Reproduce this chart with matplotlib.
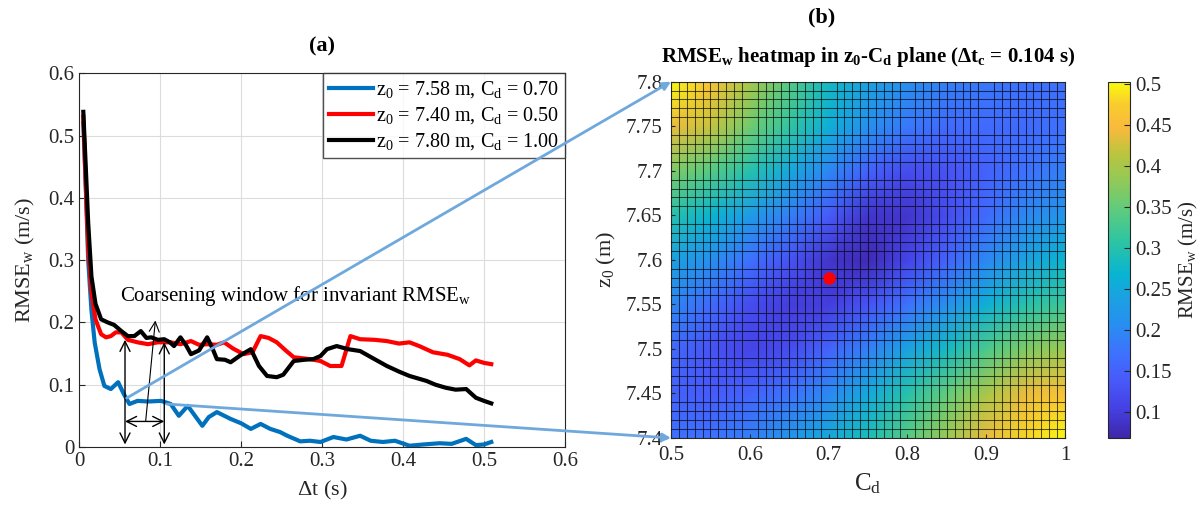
import numpy as np
import matplotlib
matplotlib.use('Agg')
import matplotlib.pyplot as plt
from matplotlib.colors import LinearSegmentedColormap
from matplotlib.patches import ConnectionPatch
from matplotlib.ticker import MultipleLocator

plt.rcParams['font.family'] = ['Liberation Serif', 'DejaVu Serif']
plt.rcParams['mathtext.fontset'] = 'custom'
plt.rcParams['mathtext.rm'] = 'Liberation Serif'
plt.rcParams['mathtext.it'] = 'Liberation Serif:italic'
plt.rcParams['mathtext.bf'] = 'Liberation Serif:bold'

# (a) RMSE_w vs coarsening time step
blue_dt = [0.005, 0.008, 0.011, 0.015, 0.019, 0.025, 0.031, 0.039, 0.048, 0.055, 0.062, 0.072, 0.085,
           0.101, 0.113, 0.123, 0.134, 0.143, 0.152, 0.16, 0.17, 0.187, 0.2, 0.212, 0.224, 0.236, 0.248,
           0.257, 0.273, 0.285, 0.298, 0.314, 0.33, 0.347, 0.36, 0.375, 0.39, 0.408, 0.425, 0.445, 0.46,
           0.478, 0.49, 0.5, 0.509]
blue_rmse = [0.52, 0.42, 0.30, 0.22, 0.168, 0.125, 0.098, 0.093, 0.104, 0.085, 0.069, 0.074, 0.073,
             0.074, 0.069, 0.05, 0.066, 0.05, 0.034, 0.048, 0.056, 0.045, 0.038, 0.029, 0.037, 0.029, 0.024,
             0.018, 0.009, 0.01, 0.008, 0.016, 0.012, 0.018, 0.01, 0.008, 0.01, 0.002, 0.004, 0.006, 0.005,
             0.013, 0.003, 0.004, 0.008]

red_dt = [0.005, 0.008, 0.011, 0.015, 0.02, 0.027, 0.033, 0.039, 0.045, 0.052, 0.06, 0.072, 0.085, 0.097,
          0.113, 0.125, 0.138, 0.148, 0.158, 0.17, 0.179, 0.19, 0.203, 0.214, 0.224, 0.234, 0.244, 0.255,
          0.265, 0.285, 0.298, 0.31, 0.324, 0.335, 0.347, 0.365, 0.38, 0.395, 0.408, 0.42, 0.437, 0.455,
          0.47, 0.482, 0.49, 0.5, 0.509]
red_rmse = [0.53, 0.42, 0.32, 0.248, 0.205, 0.181, 0.176, 0.178, 0.184, 0.184, 0.172, 0.168, 0.165, 0.168,
            0.168, 0.165, 0.17, 0.164, 0.165, 0.164, 0.168, 0.158, 0.149, 0.152, 0.178, 0.175, 0.168, 0.155,
            0.144, 0.141, 0.138, 0.13, 0.13, 0.178, 0.173, 0.172, 0.17, 0.166, 0.168, 0.162, 0.152, 0.148,
            0.141, 0.131, 0.139, 0.135, 0.133]

black_dt = [0.005, 0.008, 0.011, 0.015, 0.02, 0.027, 0.035, 0.043, 0.052, 0.06, 0.068, 0.076, 0.083, 0.089,
            0.097, 0.105, 0.112, 0.117, 0.125, 0.132, 0.138, 0.148, 0.158, 0.164, 0.17, 0.18, 0.187, 0.2,
            0.212, 0.222, 0.232, 0.244, 0.252, 0.265, 0.278, 0.289, 0.298, 0.306, 0.318, 0.332, 0.347,
            0.362, 0.38, 0.395, 0.408, 0.429, 0.44, 0.453, 0.465, 0.478, 0.49, 0.5, 0.509]
black_rmse = [0.538, 0.45, 0.36, 0.274, 0.23, 0.205, 0.2, 0.196, 0.186, 0.178, 0.178, 0.186, 0.175, 0.176,
              0.172, 0.173, 0.168, 0.162, 0.176, 0.163, 0.149, 0.155, 0.176, 0.16, 0.141, 0.14, 0.136, 0.148,
              0.157, 0.13, 0.114, 0.112, 0.116, 0.138, 0.14, 0.141, 0.146, 0.157, 0.162, 0.157, 0.154,
              0.143, 0.13, 0.121, 0.114, 0.106, 0.1, 0.095, 0.092, 0.093, 0.079, 0.074, 0.07]

labels = [r'z$_0$ = 7.58 m, C$_\mathrm{d}$ = 0.70',
          r'z$_0$ = 7.40 m, C$_\mathrm{d}$ = 0.50',
          r'z$_0$ = 7.80 m, C$_\mathrm{d}$ = 1.00']

# (b) heatmap, read on a coarse grid (rows: z0, cols: Cd)
cd_vals = [0.5, 0.55, 0.6, 0.65, 0.7, 0.75, 0.8, 0.85, 0.9, 0.95, 1.0]
z0_vals = [7.4, 7.45, 7.5, 7.55, 7.6, 7.65, 7.7, 7.75, 7.8]
rmse_grid = [
    [0.17, 0.17, 0.19, 0.22, 0.25, 0.29, 0.34, 0.39, 0.44, 0.48, 0.50],
    [0.15, 0.14, 0.15, 0.17, 0.20, 0.25, 0.30, 0.35, 0.40, 0.44, 0.46],
    [0.16, 0.13, 0.11, 0.12, 0.15, 0.19, 0.24, 0.28, 0.33, 0.37, 0.39],
    [0.20, 0.16, 0.12, 0.10, 0.10, 0.13, 0.17, 0.21, 0.26, 0.30, 0.32],
    [0.24, 0.21, 0.17, 0.13, 0.09, 0.075, 0.11, 0.15, 0.20, 0.24, 0.27],
    [0.30, 0.27, 0.23, 0.19, 0.14, 0.09, 0.09, 0.12, 0.16, 0.20, 0.22],
    [0.37, 0.34, 0.30, 0.25, 0.20, 0.15, 0.12, 0.13, 0.15, 0.17, 0.19],
    [0.44, 0.42, 0.36, 0.31, 0.26, 0.21, 0.18, 0.16, 0.16, 0.16, 0.17],
    [0.50, 0.46, 0.40, 0.34, 0.28, 0.24, 0.21, 0.19, 0.18, 0.17, 0.17],
]
best_cd = [0.70]
best_z0 = [7.58]

parula = LinearSegmentedColormap.from_list('parula', [
    (0.00, (0.2422, 0.1504, 0.6603)),
    (0.08, (0.2700, 0.2500, 0.8900)),
    (0.16, (0.2810, 0.3500, 0.9800)),
    (0.24, (0.2400, 0.4500, 0.9950)),
    (0.32, (0.1540, 0.5600, 0.9400)),
    (0.40, (0.1000, 0.6400, 0.8800)),
    (0.46, (0.0297, 0.7082, 0.8163)),
    (0.56, (0.1938, 0.7758, 0.6251)),
    (0.64, (0.3667, 0.7956, 0.4945)),
    (0.72, (0.5630, 0.7923, 0.3486)),
    (0.80, (0.7345, 0.7713, 0.2414)),
    (0.87, (0.9743, 0.7291, 0.2373)),
    (0.94, (0.9765, 0.8030, 0.1751)),
    (1.00, (0.9763, 0.9831, 0.0538)),
])

fig = plt.figure(figsize=(12.03, 5.12), dpi=100)
ax1 = fig.add_axes([0.0659, 0.127, 0.4037, 0.730])
ax2 = fig.add_axes([0.5578, 0.1445, 0.3275, 0.6960])
cax = fig.add_axes([0.9210, 0.1445, 0.0185, 0.6960])

gray = '#262626'
ax1.plot(blue_dt, blue_rmse, color='#0072BD', lw=3.0, label=labels[0], zorder=3)
ax1.plot(red_dt, red_rmse, color='#FF0000', lw=3.0, label=labels[1], zorder=3)
ax1.plot(black_dt, black_rmse, color='black', lw=3.0, label=labels[2], zorder=3)
ax1.set_xlim(0, 0.6)
ax1.set_ylim(0, 0.6)
ax1.set_xticks(np.arange(0, 0.61, 0.1))
ax1.set_yticks(np.arange(0, 0.61, 0.1))
ax1.set_xticklabels(['0', '0.1', '0.2', '0.3', '0.4', '0.5', '0.6'])
ax1.set_yticklabels(['0', '0.1', '0.2', '0.3', '0.4', '0.5', '0.6'])
ax1.grid(True, color='#dcdcdc', lw=0.8)
ax1.tick_params(direction='in', labelsize=15, colors=gray, length=4)
for s in ax1.spines.values():
    s.set_color(gray)
ax1.set_xlabel(r'$\Delta$t (s)', fontsize=16, color=gray, labelpad=6)
ax1.set_ylabel(r'RMSE$_\mathrm{w}$ (m/s)', fontsize=16, color=gray, labelpad=8)
ax1.set_title('(a)', fontsize=16, fontweight='bold', pad=16)
leg = ax1.legend(loc='upper right', fontsize=14.5, frameon=True, fancybox=False, borderaxespad=0,
                 handlelength=2.2, handletextpad=0.15, labelspacing=0.25, borderpad=0.3)
leg.get_frame().set_edgecolor(gray)
leg.get_frame().set_linewidth(1.0)

# coarsening window arrows
akw = dict(arrowstyle='<->', color='black', lw=1.0, mutation_scale=18, shrinkA=0, shrinkB=0)
ax1.annotate('', xy=(0.0565, 0.004), xytext=(0.0565, 0.172), arrowprops=akw, zorder=5)
ax1.annotate('', xy=(0.105, 0.004), xytext=(0.105, 0.168), arrowprops=akw, zorder=5)
ax1.annotate('', xy=(0.0565, 0.041), xytext=(0.105, 0.041), arrowprops=akw, zorder=5)
ax1.annotate('', xy=(0.094, 0.203), xytext=(0.082, 0.041),
             arrowprops=dict(arrowstyle='->', color='black', lw=0.8, mutation_scale=18,
                             shrinkA=0, shrinkB=0), zorder=5)
ax1.text(0.05, 0.243, r'Coarsening window for invariant RMSE$_\mathrm{w}$', fontsize=15,
         va='center', ha='left', color='black', zorder=6)

# heatmap
mesh = ax2.pcolormesh(np.array(cd_vals), np.array(z0_vals), np.array(rmse_grid), cmap=parula,
                      vmin=0.068, vmax=0.503, shading='gouraud', zorder=1)
ax2.plot(best_cd, best_z0, 'o', color='red', ms=8, zorder=5)
ax2.set_xlim(0.5, 1.0)
ax2.set_ylim(7.4, 7.8)
ax2.xaxis.set_minor_locator(MultipleLocator(0.01))
ax2.yaxis.set_minor_locator(MultipleLocator(0.01))
ax2.grid(True, which='minor', color='black', lw=0.75, alpha=0.65, zorder=2)
ax2.set_axisbelow(False)
ax2.set_xticks([0.5, 0.6, 0.7, 0.8, 0.9, 1.0])
ax2.set_xticklabels(['0.5', '0.6', '0.7', '0.8', '0.9', '1'])
ax2.set_yticks([7.4, 7.45, 7.5, 7.55, 7.6, 7.65, 7.7, 7.75, 7.8])
ax2.set_yticklabels(['7.4', '7.45', '7.5', '7.55', '7.6', '7.65', '7.7', '7.75', '7.8'])
ax2.tick_params(which='major', direction='in', labelsize=15, colors=gray, length=3, pad=6)
ax2.tick_params(which='minor', length=0)
for s in ax2.spines.values():
    s.set_color(gray)
ax2.set_xlabel(r'C$_\mathrm{d}$', fontsize=18, color=gray, labelpad=4)
ax2.set_ylabel(r'z$_0$ (m)', fontsize=16, color=gray, labelpad=6)
ax2.set_title(r'RMSE$_\mathbf{w}$ heatmap in z$_\mathbf{0}$-C$_\mathbf{d}$ plane ($\mathbf{\Delta}$t$_\mathbf{c}$ = 0.104 s)',
              fontsize=15, fontweight='bold', pad=14)
fig.text(0.683, 0.965, '(b)', fontsize=16, fontweight='bold', ha='center', va='center')

cb = fig.colorbar(mesh, cax=cax)
cb.set_ticks([0.1, 0.15, 0.2, 0.25, 0.3, 0.35, 0.4, 0.45, 0.5])
cb.ax.set_yticklabels(['0.1', '0.15', '0.2', '0.25', '0.3', '0.35', '0.4', '0.45', '0.5'])
cb.ax.tick_params(direction='in', labelsize=15, colors=gray, length=4)
cb.outline.set_edgecolor(gray)
cb.set_label(r'RMSE$_\mathrm{w}$ (m/s)', fontsize=15, color=gray, labelpad=4)

# zoom connectors from (a) to (b)
for xa, ya, yb in [(0.0585, 0.0785, 7.8), (0.108, 0.069, 7.4)]:
    con = ConnectionPatch(xyA=(xa, ya), coordsA=ax1.transData, xyB=(0.5, yb), coordsB=ax2.transData,
                          arrowstyle='-|>', color='#6fa8dc', lw=2.0, mutation_scale=12, zorder=10)
    fig.add_artist(con)

fig.savefig('out.png', dpi=100)
